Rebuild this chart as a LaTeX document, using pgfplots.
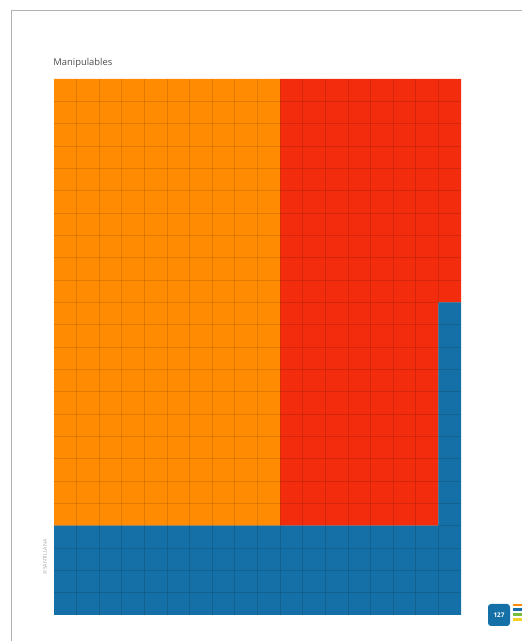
\documentclass[border=0pt]{standalone}
\usepackage{pgfplots}
\pgfplotsset{compat=1.18}
\usepackage{fontspec}
\setmainfont{Open Sans}
\definecolor{corange}{RGB}{255,139,2}
\definecolor{cred}{RGB}{242,44,12}
\definecolor{cblue}{RGB}{20,112,166}
\definecolor{cgreen}{RGB}{120,190,60}
\definecolor{cyellow}{RGB}{240,210,40}
\begin{document}
\begin{tikzpicture}
% page, 0.5pt per pixel of the scan
\path[use as bounding box] (-27pt,-13pt) rectangle (234pt,307.5pt);
\draw[black!30, line width=0.5pt] (-21pt,-13pt) -- (-21pt,302pt) -- (234pt,302pt);
\begin{axis}[
  scale only axis,
  width=203.5pt, height=268pt,
  xmin=0, xmax=18,
  ymin=0, ymax=24,
  ybar stacked,
  bar width=1,
  xtick={1,...,17}, ytick={1,...,23},
  xticklabels={}, yticklabels={},
  major tick length=0pt,
  grid=major,
  major grid style={black, opacity=0.12, line width=0.4pt},
  axis line style={draw=none},
  axis on top,
]
% blue
\addplot[fill=cblue, draw=none] coordinates {
 (0.5,4) (1.5,4) (2.5,4) (3.5,4) (4.5,4) (5.5,4) (6.5,4) (7.5,4) (8.5,4)
 (9.5,4) (10.5,4) (11.5,4) (12.5,4) (13.5,4) (14.5,4) (15.5,4) (16.5,4)
 (17.5,14)
};
% orange
\addplot[fill=corange, draw=none] coordinates {
 (0.5,20) (1.5,20) (2.5,20) (3.5,20) (4.5,20) (5.5,20) (6.5,20) (7.5,20) (8.5,20)
 (9.5,20) (10.5,0) (11.5,0) (12.5,0) (13.5,0) (14.5,0) (15.5,0) (16.5,0)
 (17.5,0)
};
% red
\addplot[fill=cred, draw=none] coordinates {
 (0.5,0) (1.5,0) (2.5,0) (3.5,0) (4.5,0) (5.5,0) (6.5,0) (7.5,0) (8.5,0)
 (9.5,0) (10.5,20) (11.5,20) (12.5,20) (13.5,20) (14.5,20) (15.5,20) (16.5,20)
 (17.5,10)
};
\end{axis}
\node[anchor=base west, inner sep=0pt, text=black!70, font=\fontsize{4.7}{6}\selectfont]
  at (-0.5pt,274.5pt) {Manipulables};
\node[rotate=90, inner sep=0pt, text=black!35, font=\fontsize{2.6}{3}\selectfont]
  at (-4.5pt,29pt) {©SANTILLANA};
\node[fill=cblue, rounded corners=1.5pt, minimum size=11pt, inner sep=0pt,
  text=white, font=\bfseries\fontsize{3.2}{4}\selectfont] at (222.5pt,0pt) {127};
\fill[corange] (229.5pt,4.5pt) rectangle (234pt,5.5pt);
\fill[cblue] (229.5pt,2pt) rectangle (234pt,3.5pt);
\fill[cgreen] (229.5pt,-0.5pt) rectangle (234pt,1pt);
\fill[cyellow] (229.5pt,-3pt) rectangle (234pt,-1.5pt);
\end{tikzpicture}
\end{document}
